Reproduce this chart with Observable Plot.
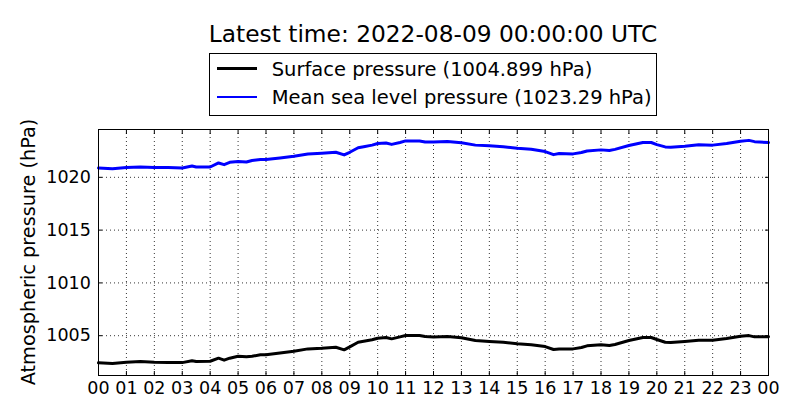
<!DOCTYPE html>
<html><head><meta charset="utf-8">
<script src="https://cdn.jsdelivr.net/npm/d3@7"></script>
<script src="https://cdn.jsdelivr.net/npm/@observablehq/plot@0.6"></script>
<style>
body{margin:0;background:#fff;font-family:"DejaVu Sans",sans-serif;}
#wrap{position:relative;width:800px;height:420px;overflow:hidden;background:#fff;}
#wrap svg{position:absolute;left:0;top:0;}
.title{position:absolute;left:0;width:866px;top:20.4px;text-align:center;font-size:23.3px;line-height:28px;white-space:nowrap;}
.legend{position:absolute;left:209px;top:53px;width:446px;height:61px;border:1px solid #000;background:#fff;}
.legend .ln{position:absolute;left:6.7px;width:40.6px;height:2.8px;}
.legend .tx{position:absolute;left:61.7px;font-size:19.5px;line-height:20px;white-space:nowrap;}
.ylab{position:absolute;left:-121px;top:240px;width:300px;height:24px;line-height:24px;font-size:19.3px;text-align:center;transform:rotate(-90deg);white-space:nowrap;}
</style></head><body><div id="wrap"></div><script>
const titleText = "Latest time: 2022-08-09 00:00:00 UTC";
const yLabel = "Atmospheric pressure (hPa)";
const seriesNames = ["Surface pressure (1004.899 hPa)", "Mean sea level pressure (1023.29 hPa)"];
const seriesColors = ["#000000", "#0000ff"];
const hours = [0,0.5,1,1.5,2,2.5,3,3.35,3.5,4,4.3,4.5,4.7,5,5.3,5.5,5.8,6,6.5,7,7.5,8,8.5,8.8,9,9.3,9.5,9.8,10,10.3,10.5,10.8,11,11.5,11.7,12,12.5,13,13.5,14,14.5,15,15.5,16,16.3,16.5,17,17.3,17.5,18,18.3,18.5,19,19.5,19.8,20,20.3,20.5,21,21.5,22,22.5,23,23.3,23.5,24];
const surface = [1002.43,1002.36,1002.49,1002.55,1002.49,1002.46,1002.45,1002.62,1002.55,1002.58,1002.87,1002.68,1002.87,1003.05,1003.0,1003.05,1003.2,1003.2,1003.37,1003.53,1003.75,1003.81,1003.91,1003.66,1003.94,1004.38,1004.48,1004.61,1004.76,1004.83,1004.70,1004.89,1005.02,1005.02,1004.92,1004.88,1004.92,1004.80,1004.54,1004.45,1004.38,1004.23,1004.14,1003.97,1003.69,1003.75,1003.75,1003.88,1004.04,1004.15,1004.07,1004.17,1004.54,1004.83,1004.83,1004.64,1004.38,1004.35,1004.45,1004.57,1004.57,1004.73,1004.95,1005.01,1004.89,1004.899];
const msl = [1020.88,1020.82,1020.92,1020.98,1020.92,1020.92,1020.88,1021.07,1020.98,1020.98,1021.36,1021.2,1021.42,1021.49,1021.45,1021.6,1021.68,1021.68,1021.83,1022.0,1022.2,1022.28,1022.38,1022.12,1022.37,1022.8,1022.9,1023.05,1023.2,1023.25,1023.12,1023.3,1023.45,1023.45,1023.35,1023.35,1023.4,1023.28,1023.05,1023.0,1022.9,1022.76,1022.66,1022.44,1022.15,1022.25,1022.22,1022.35,1022.5,1022.6,1022.55,1022.65,1023.02,1023.3,1023.3,1023.1,1022.88,1022.85,1022.95,1023.08,1023.05,1023.2,1023.42,1023.5,1023.38,1023.29];
const xTicks = [0,1,2,3,4,5,6,7,8,9,10,11,12,13,14,15,16,17,18,19,20,21,22,23,24];
const xTickLabels = ["00","01","02","03","04","05","06","07","08","09","10","11","12","13","14","15","16","17","18","19","20","21","22","23","00"];
const yTicks = [1005, 1010, 1015, 1020];
const yTickLabels = ["1005", "1010", "1015", "1020"];
const yDomain = [1001.23, 1024.53];

const rows = hours.map((h, i) => ({hour: h, surface: surface[i], msl: msl[i]}));
const fmtX = d => xTickLabels[xTicks.indexOf(d)];
const fmtY = d => yTickLabels[yTicks.indexOf(d)];
const blank = () => "";
const gridStyle = {stroke: "black", strokeOpacity: 1, strokeWidth: 0.8, strokeDasharray: "1,3"};

const chart = Plot.plot({
  width: 800, height: 420,
  marginLeft: 98, marginRight: 32, marginTop: 129, marginBottom: 45,
  style: {fontFamily: "DejaVu Sans", fontSize: "17.5px", background: "white", color: "black", overflow: "visible"},
  x: {domain: [0, 24], label: null},
  y: {domain: yDomain, label: null},
  marks: [
    Plot.gridX(xTicks.slice(1, -1), gridStyle),
    Plot.gridY(yTicks, gridStyle),
    Plot.line(rows, {x: "hour", y: "surface", stroke: seriesColors[0], strokeWidth: 3}),
    Plot.line(rows, {x: "hour", y: "msl", stroke: seriesColors[1], strokeWidth: 3}),
    Plot.frame({stroke: "black", strokeWidth: 1}),
    Plot.axisX(xTicks, {anchor: "bottom", tickSize: 0, tickPadding: 6, tickFormat: fmtX, fontSize: 17.5, label: null}),
    Plot.axisX(xTicks, {anchor: "bottom", tickSize: -4, tickFormat: blank, label: null}),
    Plot.axisX(xTicks, {anchor: "top", tickSize: -4, tickFormat: blank, label: null}),
    Plot.axisY(yTicks, {anchor: "left", tickSize: 0, tickPadding: 7.6, tickFormat: fmtY, fontSize: 17.5, label: null}),
    Plot.axisY(yTicks, {anchor: "left", tickSize: -4, tickFormat: blank, label: null}),
    Plot.axisY(yTicks, {anchor: "right", tickSize: -4, tickFormat: blank, label: null})
  ]
});

const wrap = document.getElementById("wrap");
wrap.appendChild(chart);

const t = document.createElement("div");
t.className = "title"; t.textContent = titleText; wrap.appendChild(t);

const yl = document.createElement("div");
yl.className = "ylab"; yl.textContent = yLabel; wrap.appendChild(yl);

const lg = document.createElement("div");
lg.className = "legend";
const lineTops = [12.9, 41.6];
const textTops = [5.6, 34.4];
seriesNames.forEach((name, i) => {
  const ln = document.createElement("div");
  ln.className = "ln"; ln.style.top = lineTops[i] + "px"; ln.style.background = seriesColors[i];
  lg.appendChild(ln);
  const tx = document.createElement("div");
  tx.className = "tx"; tx.style.top = textTops[i] + "px"; tx.textContent = name;
  lg.appendChild(tx);
});
wrap.appendChild(lg);
</script></body></html>
